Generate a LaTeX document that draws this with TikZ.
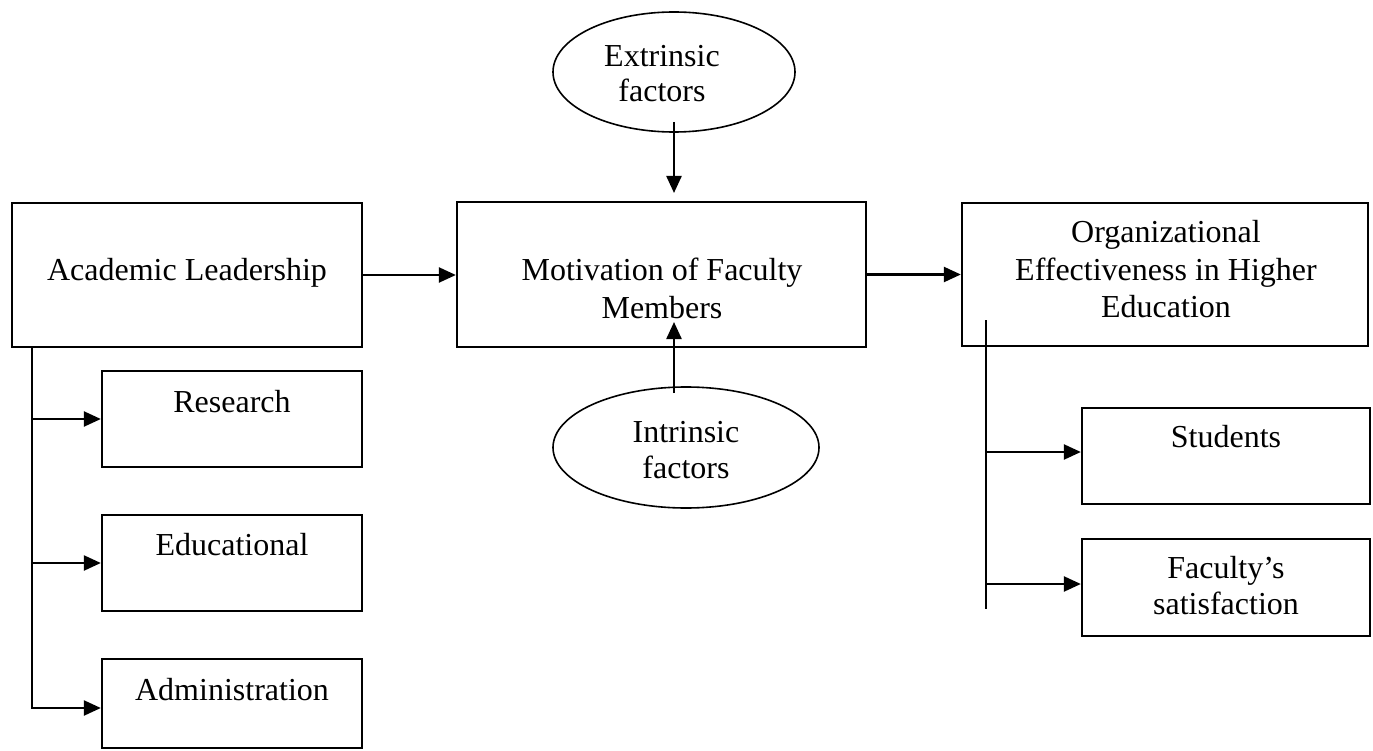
\documentclass[tikz,border=0pt]{standalone}
\usepackage{fontspec}
\setmainfont{Liberation Serif}
\usetikzlibrary{shapes.geometric,arrows.meta}
\begin{document}
\begin{tikzpicture}[x=1pt,y=-1pt,
  box/.style={draw,line width=2.3pt,inner sep=0pt},
  oval/.style={draw,ellipse,line width=1.6pt,inner sep=0pt},
  txt/.style={anchor=base,inner sep=0pt,font=\fontsize{32}{38}\selectfont},
  arr/.style={line width=2.3pt,-{Triangle[length=17pt,width=15pt]}},
  ln/.style={line width=2.3pt},
  thin/.style={line width=1.6pt}]
\useasboundingbox (0,0) rectangle (1373,751);
% boxes
\node[box,minimum width=350pt,minimum height=144pt] (al) at (187,275) {};
\node[box,minimum width=409pt,minimum height=145pt] (mot) at (661.5,274.5) {};
\node[box,minimum width=406pt,minimum height=143pt] (org) at (1165,274.5) {};
\node[box,minimum width=260pt,minimum height=96pt] (res) at (232,419) {};
\node[box,minimum width=260pt,minimum height=96pt] (edu) at (232,563) {};
\node[box,minimum width=260pt,minimum height=89pt] (adm) at (232,703.5) {};
\node[box,minimum width=288pt,minimum height=96pt] (stu) at (1226,456) {};
\node[box,minimum width=288pt,minimum height=97pt] (fac) at (1226,587.5) {};
\node[oval,minimum width=242pt,minimum height=120pt] (ext) at (674,72) {};
\node[oval,minimum width=266pt,minimum height=121pt] (int) at (686,447.5) {};
% texts
\node[txt] (tal) at (187,280) {Academic Leadership};
\node[txt] (tm1) at (662,280) {Motivation of Faculty};
\node[txt] (tm2) at (662,318) {Members};
\node[txt] (to1) at (1166,243) {Organizational};
\node[txt] (to2) at (1166,280) {Effectiveness in Higher};
\node[txt] (to3) at (1166,317) {Education};
\node[txt] (tr) at (232,412) {Research};
\node[txt] (te) at (232,555) {Educational};
\node[txt] (ta) at (232,700) {Administration};
\node[txt] (ts) at (1226,447) {Students};
\node[txt] (tf1) at (1226,578) {Faculty’s};
\node[txt] (tf2) at (1226,614) {satisfaction};
\node[txt] (tx1) at (662,67) {Extrinsic};
\node[txt] (tx2) at (662,102) {factors};
\node[txt] (ti1) at (686,442) {Intrinsic};
\node[txt] (ti2) at (686,478) {factors};
% coordinates
\coordinate (ea) at (674,122);
\coordinate (eb) at (674,193);
\coordinate (ia) at (674,393);
\coordinate (ib) at (674,322);
\coordinate (lt) at (32,347);
\coordinate (l1) at (32,419);
\coordinate (l2) at (32,563);
\coordinate (lb) at (32,708);
\coordinate (rt) at (986,320);
\coordinate (r1) at (986,452);
\coordinate (r2) at (986,584);
\coordinate (rb) at (986,609);
% connectors
\draw[arr] (al.east) -- (al.east -| mot.west);
\draw[arr] (mot.east) -- (mot.east -| org.west);
\draw[arr] (ea) -- (eb);
\draw[arr] (ia) -- (ib);
\draw[arr] (lt) -- (lb) -- (lb -| adm.west);
\draw[arr] (l1) -- (l1 -| res.west);
\draw[arr] (l2) -- (l2 -| edu.west);
\draw[thin] (rt) -- (rb);
\draw[arr] (r1) -- (r1 -| stu.west);
\draw[arr] (r2) -- (r2 -| fac.west);
\end{tikzpicture}
\end{document}
